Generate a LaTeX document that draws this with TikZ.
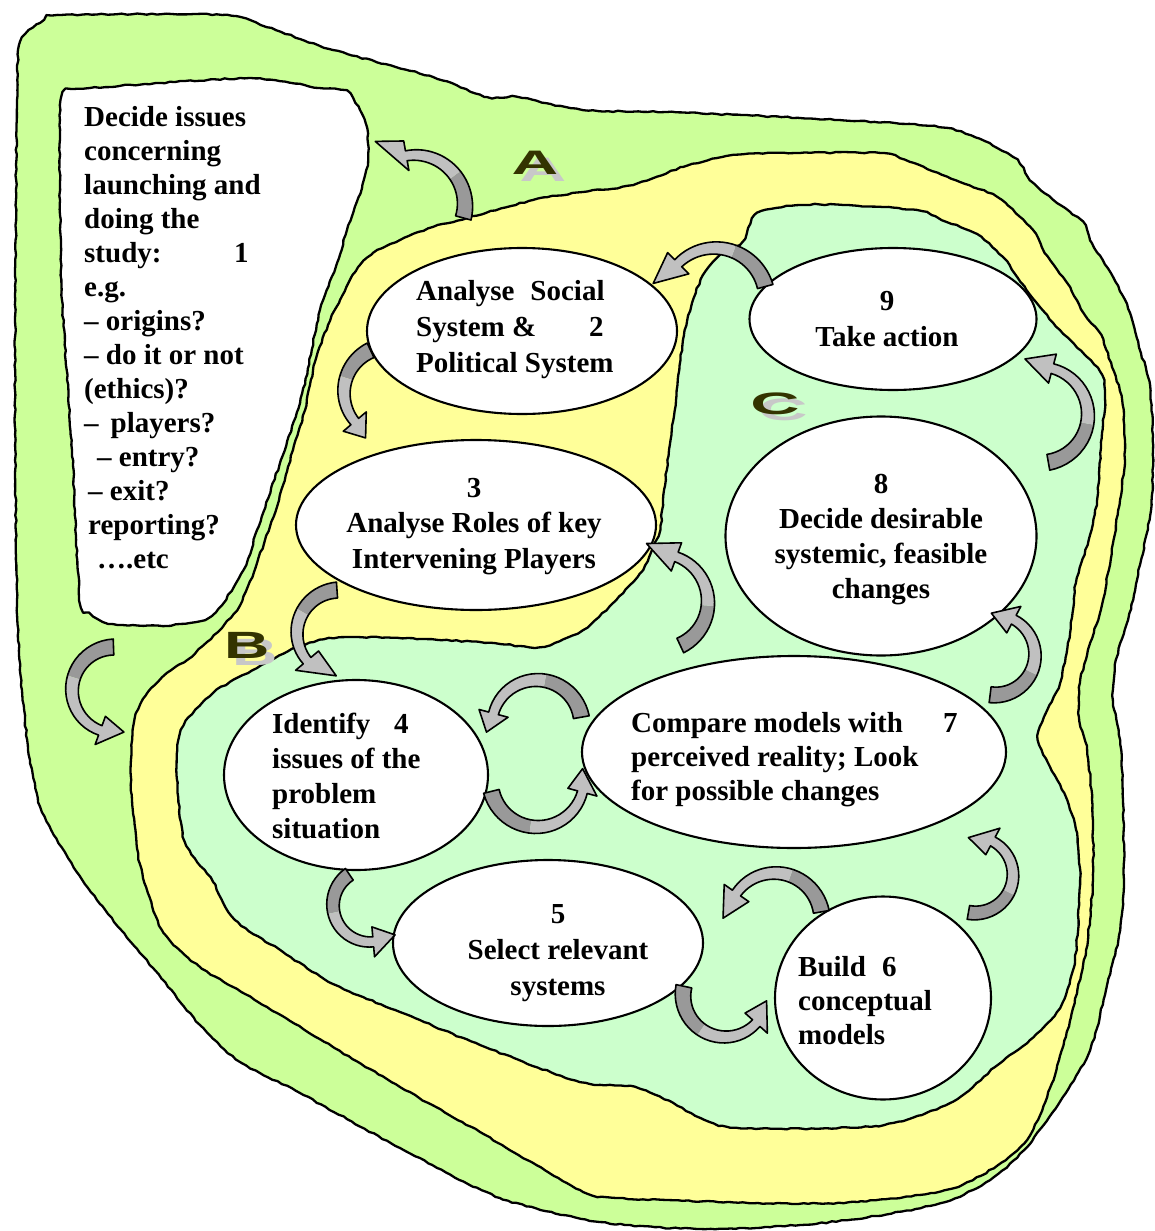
\documentclass[tikz,border=0pt]{standalone}
\usepackage{fontspec}
\usepackage{graphicx}
\setmainfont{Liberation Serif}
\newfontfamily\markfont{Liberation Sans}
\usetikzlibrary{shapes.geometric,decorations.pathmorphing}

\definecolor{outergreen}{HTML}{CCFF99}
\definecolor{midyellow}{HTML}{FFFF99}
\definecolor{innergreen}{HTML}{CCFFCC}
\definecolor{swirldark}{HTML}{999999}
\definecolor{swirllight}{HTML}{C0C0C0}
\definecolor{markdark}{HTML}{333300}
\definecolor{markshade}{HTML}{C8C8C8}

% a block of lines whose baseline is the first line
\newcommand\lines[2]{\begin{tabular}[t]{@{}#1@{}}#2\end{tabular}}

% curved ribbon arrow on a circle
% #1,#2 centre  #3 radius  #4 tail angle  #5 head-base angle  #6 tip angle
% #7 half width at tail  #8 half width at head  #9 extra radius of the tip
\newcommand\swirl[9]{%
  \pgfmathsetmacro\sA{#4}%
  \pgfmathsetmacro\sB{#5}%
  \pgfmathsetmacro\sD{(#5)-(#4)}%
  \pgfmathsetmacro\sM{(#4)+0.45*(\sD)}%
  \pgfmathsetmacro\sW{(#8)-(#7)}%
  \pgfmathsetmacro\sH{(#8)+10}%
  \fill[swirldark]
    plot[domain=\sA:\sM,samples=14] ({#1+(#3+(#7)+\sW*((\x)-(\sA))/(\sD))*cos(\x)},{#2+(#3+(#7)+\sW*((\x)-(\sA))/(\sD))*sin(\x)})
    -- plot[domain=\sM:\sA,samples=14] ({#1+(#3-(#7)-\sW*((\x)-(\sA))/(\sD))*cos(\x)},{#2+(#3-(#7)-\sW*((\x)-(\sA))/(\sD))*sin(\x)})
    -- cycle;
  \fill[swirllight]
    plot[domain=\sM:\sB,samples=14] ({#1+(#3+(#7)+\sW*((\x)-(\sA))/(\sD))*cos(\x)},{#2+(#3+(#7)+\sW*((\x)-(\sA))/(\sD))*sin(\x)})
    -- ({#1+(#3+\sH)*cos(\sB)},{#2+(#3+\sH)*sin(\sB)})
    -- ({#1+(#3+#9)*cos(#6)},{#2+(#3+#9)*sin(#6)})
    -- ({#1+(#3-\sH)*cos(\sB)},{#2+(#3-\sH)*sin(\sB)})
    -- plot[domain=\sB:\sM,samples=14] ({#1+(#3-(#7)-\sW*((\x)-(\sA))/(\sD))*cos(\x)},{#2+(#3-(#7)-\sW*((\x)-(\sA))/(\sD))*sin(\x)})
    -- cycle;
  \draw[line width=1.6pt,line join=round]
    plot[domain=\sA:\sB,samples=26] ({#1+(#3+(#7)+\sW*((\x)-(\sA))/(\sD))*cos(\x)},{#2+(#3+(#7)+\sW*((\x)-(\sA))/(\sD))*sin(\x)})
    -- ({#1+(#3+\sH)*cos(\sB)},{#2+(#3+\sH)*sin(\sB)})
    -- ({#1+(#3+#9)*cos(#6)},{#2+(#3+#9)*sin(#6)})
    -- ({#1+(#3-\sH)*cos(\sB)},{#2+(#3-\sH)*sin(\sB)})
    -- plot[domain=\sB:\sA,samples=26] ({#1+(#3-(#7)-\sW*((\x)-(\sA))/(\sD))*cos(\x)},{#2+(#3-(#7)-\sW*((\x)-(\sA))/(\sD))*sin(\x)})
    -- cycle;
}

\begin{document}
\pgfmathsetseed{4242}
\begin{tikzpicture}[x=1pt,y=-1pt,
  region/.style={draw=black,line width=2.3pt,line join=round,
    decorate,decoration={random steps,segment length=5pt,amplitude=0.7pt}},
  stage/.style={ellipse,draw=black,line width=2.1pt,fill=white,inner sep=0pt},
  txt/.style={inner sep=0pt,font=\bfseries\fontsize{29}{34}\selectfont},
  bandmark/.style={inner sep=0pt,text=markdark},
  bandshadow/.style={inner sep=0pt,text=markshade}]

\useasboundingbox (0,0) rectangle (1155,1231);

% outer band
\draw[region,fill=outergreen] plot[smooth cycle,tension=0.45] coordinates {
  (20,42) (40,23) (62,15) (222,15) (267,27) (333,50) (433,77) (487,97) (517,97)
  (583,110) (667,112) (800,118) (947,128) (1013,157) (1030,180) (1057,203)
  (1083,222) (1092,243) (1113,277) (1130,313) (1141,353) (1150,385) (1153,450)
  (1151,510) (1140,565) (1128,620) (1116,660) (1113,700) (1120,740) (1123,800)
  (1124,880) (1119,935) (1106,990) (1090,1050) (1061,1100) (1024,1150) (990,1180)
  (945,1202) (876,1216) (800,1225) (700,1229) (600,1222) (500,1198) (400,1148)
  (300,1093) (240,1062) (200,1025) (153,968) (100,904) (67,856) (42,812)
  (30,760) (22,690) (17,600) (15,400) (16,200) (17,100)};

% middle band
\draw[region,fill=midyellow] plot[smooth cycle,tension=0.45] coordinates {
  (373,253) (400,240) (433,227) (467,218) (533,200) (583,192) (633,185)
  (683,167) (733,155) (800,153) (880,153) (900,158) (960,182) (997,197)
  (1033,230) (1045,253) (1067,283) (1085,315) (1101,335) (1112,367) (1122,400)
  (1125,450) (1120,500) (1103,600) (1088,650) (1080,683) (1079,717) (1087,750)
  (1092,800) (1093,880) (1086,950) (1071,1017) (1052,1083) (1030,1135)
  (998,1165) (950,1189) (858,1202) (758,1203) (617,1198) (580,1190) (480,1132)
  (400,1087) (333,1047) (267,1007) (200,967) (162,930) (140,864) (132,800)
  (131,760) (135,718) (148,692) (167,673) (187,660) (207,642) (224,625)
  (240,605) (254,572) (265,540) (279,500) (293,450) (305,410) (315,362)
  (328,325) (340,300) (350,280) (360,265)};

% inner band
\draw[region,fill=innergreen] plot[smooth cycle,tension=0.45] coordinates {
  (757,213) (800,205) (843,205) (917,210) (942,220) (977,234) (1003,257)
  (1018,278) (1040,307) (1060,330) (1087,357) (1102,375) (1105,400) (1102,433)
  (1097,500) (1090,535) (1076,583) (1070,633) (1060,683) (1044,717) (1038,740)
  (1050,767) (1067,800) (1077,833) (1080,880) (1075,960) (1060,1008)
  (1030,1040) (995,1067) (950,1103) (876,1126) (728,1127) (673,1103)
  (635,1087) (580,1082) (480,1045) (400,1012) (333,984) (283,952) (235,920)
  (213,882) (185,842) (177,780) (181,730) (213,693) (257,668) (300,646)
  (347,637) (480,642) (540,647) (583,630) (612,604) (630,585) (643,570)
  (652,550) (660,530) (663,500) (669,450) (676,400) (683,340) (692,303)
  (703,275) (713,262) (726,250) (742,242)};

% issues box
\draw[region,fill=white] plot[smooth cycle,tension=0.35] coordinates {
  (63,92) (90,88) (250,78) (320,88) (347,91) (360,110) (367,128) (368,160)
  (362,188) (347,230) (337,263) (320,310) (300,403) (257,530) (246,565)
  (222,605) (205,620) (163,626) (113,624) (93,616) (80,600) (72,450)
  (62,300) (60,200) (60,120)};

% stages
\node[stage,minimum width=310pt,minimum height=166pt] (s2) at (522,331) {};
\node[stage,minimum width=287pt,minimum height=142pt] (s9) at (893,319) {};
\node[stage,minimum width=360pt,minimum height=170pt] (s3) at (476,525) {};
\node[stage,minimum width=311pt,minimum height=239pt] (s8) at (881,536) {};
\node[stage,minimum width=264pt,minimum height=190pt] (s4) at (356,775) {};
\node[stage,minimum width=424pt,minimum height=192pt] (s7) at (794,752) {};
\node[stage,minimum width=310pt,minimum height=166pt] (s5) at (548,943) {};
\node[stage,minimum width=216pt,minimum height=203pt] (s6) at (883,998) {};

% ribbon arrows
\swirl{415}{205}{50}{15}{-100}{-122}{8}{5}{25}
\swirl{715}{300}{52}{-15}{-135}{-165}{8}{5}{12}
\swirl{390}{392}{46}{245}{140}{118}{8}{5}{6}
\swirl{1040}{415}{48}{80}{-75}{-105}{8}{5}{10}
\swirl{660}{602}{48}{65}{-70}{-103}{8}{5}{12}
\swirl{115}{690}{43}{268}{110}{78}{8}{5}{0}
\swirl{340}{633}{43}{266}{140}{95}{8}{5}{0}
\swirl{995}{655}{40}{97}{-62}{-95}{8}{5}{2}
\swirl{537}{725}{45}{-10}{-165}{-188}{8}{5}{6}
\swirl{537}{780}{47}{166}{15}{-14}{8}{5}{0}
\swirl{975}{875}{38}{100}{-62}{-100}{7}{5}{0}
\swirl{370}{905}{37}{236}{85}{50}{7}{5}{2}
\swirl{775}{920}{47}{-10}{-145}{-178}{8}{5}{5}
\swirl{725}{995}{42}{192}{42}{8}{8}{5}{0}

% band letters with their shadows
\node[bandshadow,font=\markfont\bfseries\fontsize{34}{34}\selectfont] (shA) at (543,170) {\scalebox{1.9}[1]{A}};
\node[bandmark,font=\markfont\bfseries\fontsize{34}{34}\selectfont] (mA) at (535,163) {\scalebox{1.9}[1]{A}};
\node[bandshadow,font=\markfont\bfseries\fontsize{38}{38}\selectfont] (shB) at (255,652) {\scalebox{1.65}[1]{B}};
\node[bandmark,font=\markfont\bfseries\fontsize{38}{38}\selectfont] (mB) at (247,645) {\scalebox{1.65}[1]{B}};
\node[bandshadow,font=\markfont\bfseries\fontsize{31}{31}\selectfont] (shC) at (783,410) {\scalebox{2.2}[1]{C}};
\node[bandmark,font=\markfont\bfseries\fontsize{31}{31}\selectfont] (mC) at (775,404) {\scalebox{2.2}[1]{C}};

% texts
\node[txt,anchor=base west] (t1) at (84,126) {\lines{l}{Decide issues\\concerning\\launching and\\doing the\\
  \makebox[150pt][l]{study:}1\\e.g.\\– origins?\\– do it or not\\(ethics)?\\–\hspace{12pt}players?\\
  \hspace{13pt}– entry?\\\hspace{4pt}– exit?\\\hspace{4pt}reporting?\\\hspace{13pt}….etc}};
\node[txt,anchor=base west] (t2) at (416,300) {\fontsize{29}{36}\selectfont\lines{l}{Analyse\hspace{16pt}Social\\
  \makebox[173pt][l]{System \&}2\\Political System}};
\node[txt,anchor=base] (t9) at (887,310) {\fontsize{29}{36}\selectfont\lines{c}{9\\Take action}};
\node[txt,anchor=base] (t3) at (474,497) {\fontsize{29}{35.5}\selectfont\lines{c}{3\\Analyse Roles of key\\Intervening Players}};
\node[txt,anchor=base] (t8) at (881,493) {\fontsize{29}{35}\selectfont\lines{c}{8\\Decide desirable\\systemic, feasible\\changes}};
\node[txt,anchor=base west] (t4) at (272,733) {\fontsize{29}{35}\selectfont\lines{l}{\makebox[122pt][l]{Identify}4\\issues of the\\problem\\situation}};
\node[txt,anchor=base west] (t7) at (631,732) {\lines{l}{\makebox[312pt][l]{Compare models with}7\\perceived reality; Look\\for possible changes}};
\node[txt,anchor=base] (t5) at (558,923) {\fontsize{29}{36}\selectfont\lines{c}{5\\Select relevant\\systems}};
\node[txt,anchor=base west] (t6) at (798,976) {\lines{l}{\makebox[84pt][l]{Build}6\\conceptual\\models}};

\end{tikzpicture}
\end{document}
